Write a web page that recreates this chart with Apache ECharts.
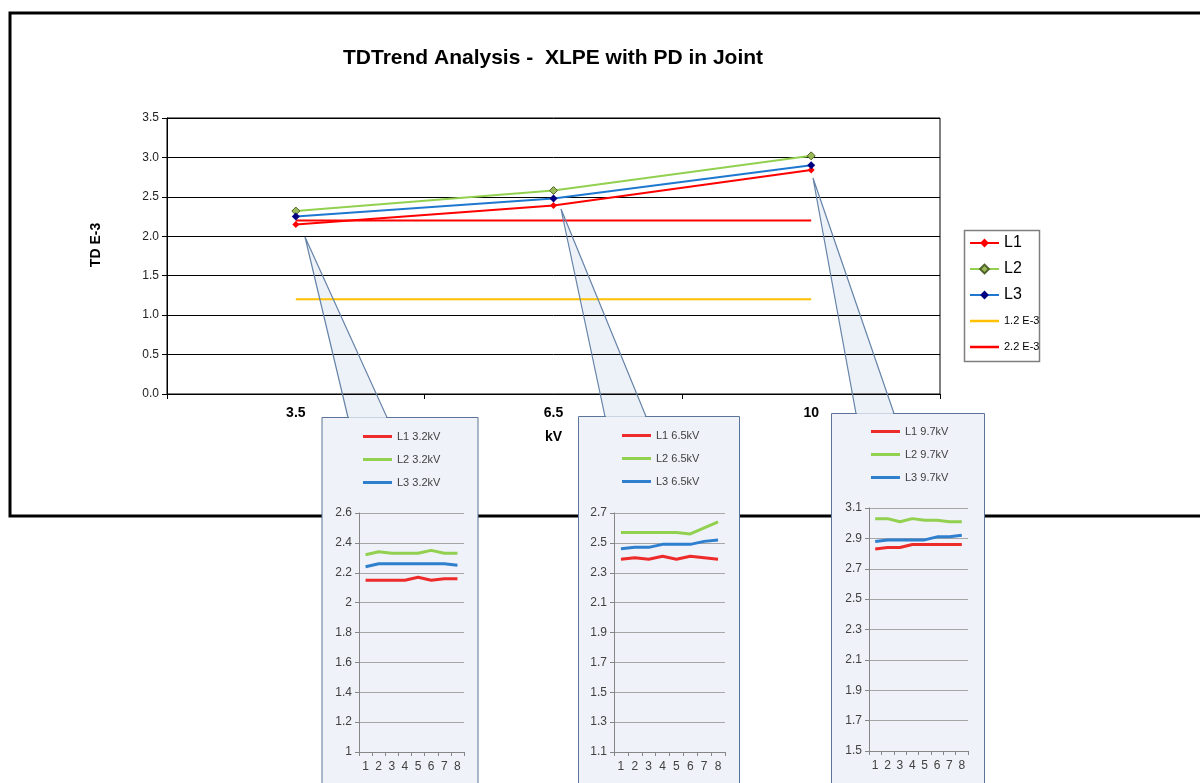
<!DOCTYPE html>
<html><head><meta charset="utf-8">
<script src="https://cdn.jsdelivr.net/npm/echarts@6/dist/echarts.min.js"></script>
<style>html,body{margin:0;padding:0;background:#fff}#c{width:1200px;height:783px}</style>
</head><body><div id="c"></div>
<script>
// ---- Main chart data ----
const mainCategories = ['3.5', '6.5', '10'];
const mainL1 = [2.15, 2.39, 2.84];
const mainL2 = [2.32, 2.58, 3.02];
const mainL3 = [2.25, 2.48, 2.90];
const limit12 = [1.2, 1.2, 1.2];
const limit22 = [2.2, 2.2, 2.2];
const mainSeriesNames = ['L1', 'L2', 'L3', '1.2 E-3', '2.2 E-3'];
const mainYRange = [0, 3.5, 0.5];

// ---- Inset data ----
const insetCategories = ['1', '2', '3', '4', '5', '6', '7', '8'];
const inset1Names = ['L1 3.2kV', 'L2 3.2kV', 'L3 3.2kV'];
const inset1L1 = [2.15, 2.15, 2.15, 2.15, 2.17, 2.15, 2.16, 2.16];
const inset1L2 = [2.32, 2.34, 2.33, 2.33, 2.33, 2.35, 2.33, 2.33];
const inset1L3 = [2.24, 2.26, 2.26, 2.26, 2.26, 2.26, 2.26, 2.25];
const inset1YRange = [1.0, 2.6, 0.2];

const inset2Names = ['L1 6.5kV', 'L2 6.5kV', 'L3 6.5kV'];
const inset2L1 = [2.39, 2.40, 2.39, 2.41, 2.39, 2.41, 2.40, 2.39];
const inset2L2 = [2.57, 2.57, 2.57, 2.57, 2.57, 2.56, 2.60, 2.64];
const inset2L3 = [2.46, 2.47, 2.47, 2.49, 2.49, 2.49, 2.51, 2.52];
const inset2YRange = [1.1, 2.7, 0.2];

const inset3Names = ['L1 9.7kV', 'L2 9.7kV', 'L3 9.7kV'];
const inset3L1 = [2.83, 2.84, 2.84, 2.86, 2.86, 2.86, 2.86, 2.86];
const inset3L2 = [3.03, 3.03, 3.01, 3.03, 3.02, 3.02, 3.01, 3.01];
const inset3L3 = [2.88, 2.89, 2.89, 2.89, 2.89, 2.91, 2.91, 2.92];
const inset3YRange = [1.5, 3.1, 0.2];

// ---- styling / layout ----
const F = '"Liberation Sans", Arial, sans-serif';
const insetColors = ['#ee2b2b', '#92d050', '#2f7fcf'];
const lineIcon = 'path://M0,0L0.01,0L0,0.01Z M0,4.3L29,4.3L29,6.7L0,6.7Z M29,11L28.99,11L29,10.99Z';
const insets = [
  {names: inset1Names, data: [inset1L1, inset1L2, inset1L3], yr: inset1YRange,
   grid: {left: 359, top: 513, width: 105, height: 239}, legend: {left: 363, top: 431},
   panel: {x: 322, y: 417.5, w: 156}, tip: [305, 237], base: [348, 387]},
  {names: inset2Names, data: [inset2L1, inset2L2, inset2L3], yr: inset2YRange,
   grid: {left: 614, top: 513, width: 111, height: 239}, legend: {left: 622, top: 430},
   panel: {x: 578.5, y: 416.5, w: 161}, tip: [561, 209], base: [605, 646]},
  {names: inset3Names, data: [inset3L1, inset3L2, inset3L3], yr: inset3YRange,
   grid: {left: 869, top: 508, width: 99, height: 243}, legend: {left: 871, top: 426},
   panel: {x: 831.5, y: 413.5, w: 153}, tip: [813, 178], base: [856, 894]}
];

const grids = [{left: 167, top: 118, width: 773, height: 276, show: true, borderColor: '#000', borderWidth: 1, z: 2}];
const xAxes = [{
  type: 'category', data: mainCategories, gridIndex: 0, z: 2,
  axisLine: {lineStyle: {color: '#000', width: 1}},
  axisTick: {show: true, length: 5, lineStyle: {color: '#000'}},
  axisLabel: {fontFamily: F, fontSize: 14, fontWeight: 'bold', color: '#000', margin: 12},
  name: 'kV', nameLocation: 'middle', nameGap: 36,
  nameTextStyle: {fontFamily: F, fontSize: 14, fontWeight: 'bold', color: '#000'}
}];
const yAxes = [{
  type: 'value', gridIndex: 0, min: mainYRange[0], max: mainYRange[1], interval: mainYRange[2], z: 2,
  axisLine: {show: true, lineStyle: {color: '#000'}},
  axisTick: {show: true, length: 5, lineStyle: {color: '#000'}},
  axisLabel: {fontFamily: F, fontSize: 12, color: '#222', margin: 8, formatter: v => v.toFixed(1)},
  splitLine: {lineStyle: {color: '#000', width: 1}},
  name: 'TD E-3', nameLocation: 'middle', nameGap: 64, nameRotate: 90,
  nameTextStyle: {fontFamily: F, fontSize: 14, fontWeight: 'bold', color: '#000', padding: [0, 0, 0, 22]}
}];
const series = [
  {name: 'L1', type: 'line', data: mainL1, symbol: 'diamond', symbolSize: 7, z: 3,
   lineStyle: {color: '#ff0000', width: 2}, itemStyle: {color: '#ff0000'}},
  {name: 'L2', type: 'line', data: mainL2, symbol: 'diamond', symbolSize: 8, z: 3,
   lineStyle: {color: '#92d050', width: 2}, itemStyle: {color: '#9bbb59', borderColor: '#4f6228', borderWidth: 1}},
  {name: 'L3', type: 'line', data: mainL3, symbol: 'diamond', symbolSize: 8, z: 3,
   lineStyle: {color: '#1f78d0', width: 2}, itemStyle: {color: '#000080'}},
  {name: '1.2 E-3', type: 'line', data: limit12, symbol: 'none', z: 3,
   lineStyle: {color: '#ffc000', width: 2}, itemStyle: {color: '#ffc000'}},
  {name: '2.2 E-3', type: 'line', data: limit22, symbol: 'none', z: 3,
   lineStyle: {color: '#ff0000', width: 2}, itemStyle: {color: '#ff0000'}}
];
const legends = [{
  data: mainSeriesNames.map(n => (n.charAt(0) === 'L' ? {name: n} : {name: n, icon: lineIcon})),
  orient: 'vertical', left: 969, top: 234, padding: 0,
  itemWidth: 29, itemHeight: 11, itemGap: 8, z: 4,
  formatter: n => (n.charAt(0) === 'L' ? '{b|' + n + '}' : '{s|' + n + '}'),
  textStyle: {fontFamily: F, color: '#000', lineHeight: 18,
    rich: {b: {fontSize: 16, lineHeight: 18, fontFamily: F, color: '#000'}, s: {fontSize: 11, lineHeight: 18, fontFamily: F, color: '#000'}}}
}];
const graphics = [
  {type: 'rect', shape: {x: 10, y: 13, width: 1205, height: 503}, style: {fill: 'none', stroke: '#000', lineWidth: 3}, z: 0, silent: true},
  {type: 'rect', shape: {x: 964.5, y: 230.5, width: 75, height: 131}, style: {fill: '#fff', stroke: '#7f7f7f', lineWidth: 1.5}, z: 1, silent: true}
];

insets.forEach((ins, i) => {
  const gi = i + 1;
  grids.push(Object.assign({show: false}, ins.grid));
  xAxes.push({
    type: 'category', data: insetCategories, gridIndex: gi, z: 5,
    axisLine: {lineStyle: {color: '#868686'}},
    axisTick: {show: true, length: 4, interval: 0, lineStyle: {color: '#868686'}},
    axisLabel: {interval: 0, fontFamily: F, fontSize: 12, color: '#404040', margin: 9}
  });
  yAxes.push({
    type: 'value', gridIndex: gi, min: ins.yr[0], max: ins.yr[1], interval: ins.yr[2], z: 5,
    axisLine: {show: true, lineStyle: {color: '#868686'}},
    axisTick: {show: true, length: 4, lineStyle: {color: '#868686'}},
    axisLabel: {fontFamily: F, fontSize: 12, color: '#404040', margin: 7, formatter: v => String(+v.toFixed(1))},
    splitLine: {lineStyle: {color: '#a6a6a6', width: 1}}
  });
  ins.names.forEach((n, k) => {
    series.push({name: n, type: 'line', data: ins.data[k], xAxisIndex: gi, yAxisIndex: gi,
      symbol: 'none', z: 6, lineStyle: {color: insetColors[k], width: 3}, itemStyle: {color: insetColors[k]}});
  });
  legends.push({
    data: ins.names, orient: 'vertical', left: ins.legend.left, top: ins.legend.top, padding: 0,
    icon: 'rect', itemWidth: 29, itemHeight: 3, itemGap: 12, z: 6,
    textStyle: {fontFamily: F, fontSize: 11, color: '#3f3f3f'}
  });
  const p = ins.panel;
  graphics.push({type: 'polygon', shape: {points: [ins.tip, [ins.base[0], p.y + 2], [ins.base[1], p.y + 2]]},
    style: {fill: '#edf1f8'}, z: 1, silent: true});
  graphics.push({type: 'rect', shape: {x: p.x, y: p.y, width: p.w, height: 420},
    style: {fill: '#eff2f8', stroke: '#5a7598', lineWidth: 1}, z: 4, silent: true});
  graphics.push({type: 'line', shape: {x1: ins.base[0] + 1, y1: p.y, x2: ins.base[1] - 1, y2: p.y},
    style: {stroke: '#c9d3e2', lineWidth: 1}, z: 4, silent: true});
  graphics.push({type: 'polyline', shape: {points: [[ins.base[0], p.y], ins.tip, [ins.base[1], p.y]]},
    style: {fill: 'none', stroke: '#6583a8', lineWidth: 1.2}, z: 4, silent: true});
});

const chart = echarts.init(document.getElementById('c'), null, {renderer: 'canvas'});
chart.setOption({
  animation: false,
  backgroundColor: '#fff',
  title: {text: 'TDTrend Analysis -  XLPE with PD in Joint', left: 343, top: 48, padding: 0,
    textStyle: {fontFamily: F, fontSize: 21, fontWeight: 'bold', color: '#000'}},
  grid: grids, xAxis: xAxes, yAxis: yAxes, legend: legends, series: series,
  graphic: {elements: graphics}
});
</script></body></html>
